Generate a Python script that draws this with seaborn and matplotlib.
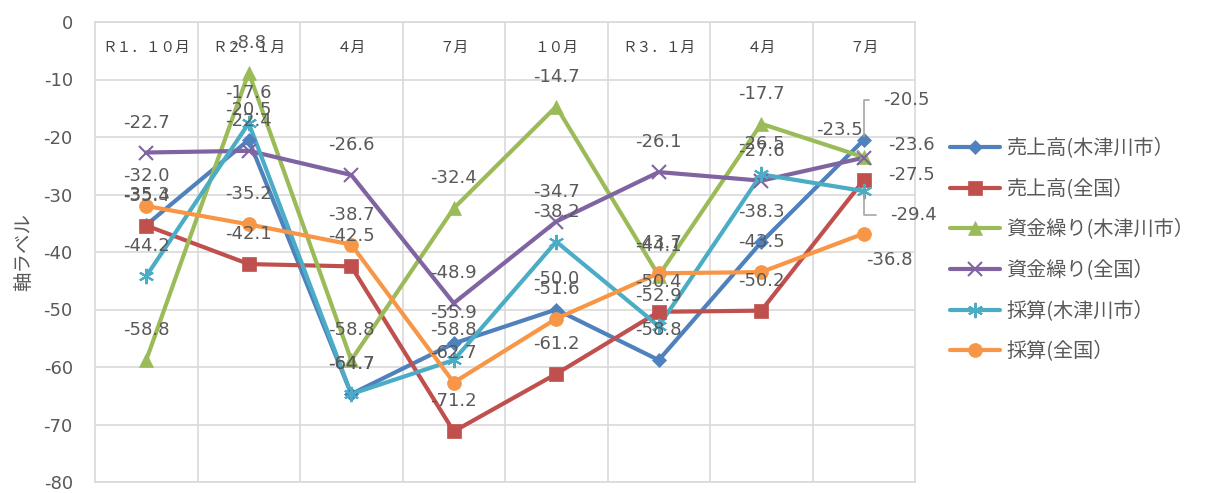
import matplotlib
matplotlib.use("Agg")
import matplotlib.pyplot as plt
import seaborn as sns
import pandas as pd
import numpy as np

categories = ["Ｒ１．１０月", "Ｒ２．１月", "４月", "７月", "１０月", "Ｒ３．１月", "４月", "７月"]
series_names = ["売上高(木津川市）", "売上高(全国）", "資金繰り(木津川市）",
                "資金繰り(全国）", "採算(木津川市）", "採算(全国）"]
uriage_kizu = [-35.3, -20.5, -64.7, -55.9, -50.0, -58.8, -38.3, -20.5]
uriage_zen = [-35.4, -42.1, -42.5, -71.2, -61.2, -50.4, -50.2, -27.5]
shikin_kizu = [-58.8, -8.8, -58.8, -32.4, -14.7, -44.1, -17.7, -23.5]
shikin_zen = [-22.7, -22.4, -26.6, -48.9, -34.7, -26.1, -27.6, -23.6]
saisan_kizu = [-44.2, -17.6, -64.7, -58.8, -38.2, -52.9, -26.5, -29.4]
saisan_zen = [-32.0, -35.2, -38.7, -62.7, -51.6, -43.7, -43.5, -36.8]
y_ticks = [0, -10, -20, -30, -40, -50, -60, -70, -80]

values = [uriage_kizu, uriage_zen, shikin_kizu, shikin_zen, saisan_kizu, saisan_zen]
colors = ["#4F81BD", "#C0504D", "#9BBB59", "#8064A2", "#4BACC6", "#F79646"]
markers = ["D", "s", "^", "x", (6, 2, 0), "o"]
msizes = [7, 10, 10, 10, 11, 10]

sns.set_style("white")
plt.rcParams['font.family'] = ['Noto Sans CJK JP', 'DejaVu Sans']
NUMFONT = ['DejaVu Sans']

rows = []
for name, vals in zip(series_names, values):
    for i, v in enumerate(vals):
        rows.append({"series": name, "x": i, "value": v})
df = pd.DataFrame(rows)

fig = plt.figure(figsize=(12.05, 4.93), dpi=100)
ax = fig.add_axes([95/1205, 1-482/493, (915-95)/1205, (482-22)/493])

sns.lineplot(data=df, x="x", y="value", hue="series", hue_order=series_names,
             palette=colors, linewidth=3, ax=ax, legend=False, sort=False)
for name, col, mk, ms in zip(series_names, colors, markers, msizes):
    sub = df[df.series == name]
    ax.plot(sub.x, sub.value, linestyle="none", marker=mk, color=col,
            markersize=ms, markeredgewidth=1.5 if mk in ("x", (6, 2, 0)) else 0.5,
            markeredgecolor=col, zorder=4)

ax.set_xlim(-0.5, 7.5)
ax.set_ylim(-80, 0)
ax.set_yticks(y_ticks)
ax.set_yticklabels([str(t) for t in y_ticks], fontfamily=NUMFONT)
ax.tick_params(axis="y", length=0, labelsize=13, labelcolor="#595959", pad=16)
ax.set_xticks([])
ax.set_xlabel("")
ax.set_ylabel("軸ラベル", fontsize=14, color="#595959", labelpad=7)
ax.yaxis.grid(True, color="#D9D9D9", linewidth=1.2)
for xb in np.arange(0.5, 7.5, 1.0):
    ax.axvline(xb, color="#D9D9D9", linewidth=1.2, zorder=0)
for s in ax.spines.values():
    s.set_color("#D9D9D9")
    s.set_linewidth(1.2)

trans = matplotlib.transforms.blended_transform_factory(ax.transData, ax.transAxes)
for i, c in enumerate(categories):
    ax.text(i, 1 - 26/460, c, transform=trans, ha="center", va="center",
            fontsize=10.5, color="#404040")

# data labels
last_offsets = {
    series_names[0]: (43, 40),
    series_names[1]: (48, 5),
    series_names[2]: (-24, 27),
    series_names[3]: (48, 13),
    series_names[4]: (50, -24),
    series_names[5]: (26, -26),
}
for name, vals in zip(series_names, values):
    for i, v in enumerate(vals):
        if i == len(vals) - 1:
            dx, dy = last_offsets[name]
            ap = None
            if name in (series_names[0], series_names[4], series_names[2]):
                ap = dict(arrowstyle="-", color="#A6A6A6", lw=1.2, shrinkA=8, shrinkB=3,
                          connectionstyle="angle,angleA=0,angleB=90,rad=0"
                          if name != series_names[2] else "arc3")
            ax.annotate(f"{v:.1f}", (i, v), xytext=(dx, dy), textcoords="offset pixels",
                        ha="center", va="center", fontsize=13, color="#595959",
                        fontfamily=NUMFONT, arrowprops=ap, zorder=5)
        else:
            ax.annotate(f"{v:.1f}", (i, v), xytext=(0, 30), textcoords="offset pixels",
                        ha="center", va="center", fontsize=13, color="#595959",
                        fontfamily=NUMFONT, zorder=5)

handles = []
for name, col, mk, ms in zip(series_names, colors, markers, msizes):
    h, = ax.plot([], [], color=col, linewidth=3, marker=mk, markersize=ms,
                 markeredgecolor=col, markeredgewidth=1.5 if mk in ("x", (6, 2, 0)) else 0.5)
    handles.append(h)
leg = fig.legend(handles, series_names, loc="upper left",
                 bbox_to_anchor=(942/1205, 1-130/493), frameon=False,
                 fontsize=14.5, labelcolor="#595959", handlelength=2.5,
                 labelspacing=0.97, handletextpad=0.3, borderaxespad=0)

fig.savefig("out.png", dpi=100)
